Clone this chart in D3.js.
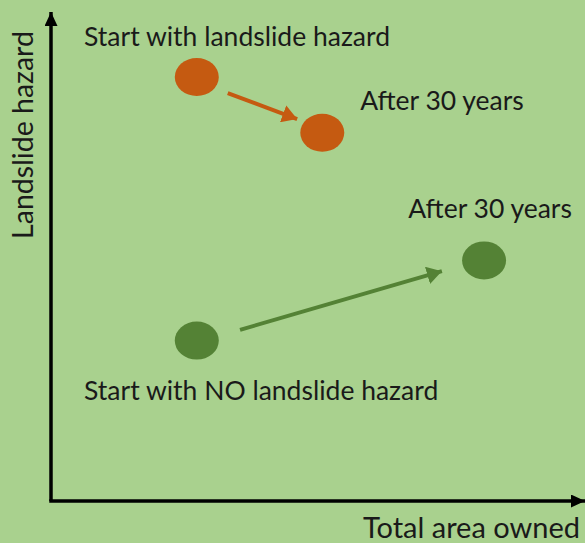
<!DOCTYPE html>
<html>
<head>
<meta charset="utf-8">
<script src="https://cdn.jsdelivr.net/npm/d3@7"></script>
<style>
  body { margin: 0; background: #a9d18e; }
  svg { display: block; }
  text { font-family: Lato, "Noto Sans", sans-serif; fill: #1a1a1a; }
</style>
</head>
<body>
<div id="chart"></div>
<script>
// concept chart: landslide hazard vs total area owned (unitless 0-100)
const startPoints = [
  { group: 'hazard', x: 27.3, y: 86.7 },
  { group: 'noHazard', x: 27.3, y: 32.8 }
];
const endPoints = [
  { group: 'hazard', x: 50.8, y: 75.3 },
  { group: 'noHazard', x: 81.1, y: 49.2 }
];
const arrows = [
  { group: 'hazard', x0: 33.1, y0: 83.4, x1: 46.1, y1: 78.1 },
  { group: 'noHazard', x0: 35.4, y0: 35.0, x1: 73.2, y1: 47.0 }
];
const labels = [
  { text: 'Start with landslide hazard', x: 6.2, y: 93.0 },
  { text: 'After 30 years', x: 57.9, y: 79.9 },
  { text: 'After 30 years', x: 66.9, y: 57.9 },
  { text: 'Start with NO landslide hazard', x: 6.2, y: 20.7 }
];
const xLabelText = 'Total area owned',
  yLabelText = 'Landslide hazard';

const colors = { hazard: '#c55a11', noHazard: '#548235' };

let width = 585, height = 543,
  margin = { top: 12, left: 51, right: 0, bottom: 42 };

let svg = d3.select('#chart')
  .append('svg')
    .attr('width', width)
    .attr('height', height);

svg.append('rect')
    .attr('width', width)
    .attr('height', height)
    .attr('fill', '#a9d18e');

let xScale = d3.scaleLinear()
  .domain([0, 100])
  .range([margin.left, width - margin.right]);
let yScale = d3.scaleLinear()
  .domain([0, 100])
  .range([height - margin.bottom, margin.top]);

let defs = svg.append('defs');

function addMarker(id, color, w, l) {
  defs.append('marker')
      .attr('id', id)
      .attr('markerUnits', 'userSpaceOnUse')
      .attr('viewBox', `0 ${-w / 2} ${l} ${w}`)
      .attr('refX', l)
      .attr('refY', 0)
      .attr('markerWidth', l)
      .attr('markerHeight', w)
      .attr('orient', 'auto')
    .append('path')
      .attr('d', `M0,${-w / 2}L${l},0L0,${w / 2}Z`)
      .attr('fill', color);
}
addMarker('axisHead', '#000', 13, 14);
addMarker('head-hazard', colors.hazard, 18, 15);
addMarker('head-noHazard', colors.noHazard, 18, 15);

// axes drawn as plain arrows
svg.append('path')
    .attr('d', `M${xScale(0)},${yScale(0)}L${xScale(0)},${yScale(100)}`)
    .attr('stroke', '#000')
    .attr('stroke-width', 3.5)
    .attr('marker-end', 'url(#axisHead)');
svg.append('path')
    .attr('d', `M${xScale(0) - 1.75},${yScale(0)}L${xScale(100)},${yScale(0)}`)
    .attr('stroke', '#000')
    .attr('stroke-width', 3.5)
    .attr('marker-end', 'url(#axisHead)');

svg.append('text')
    .attr('x', 580)
    .attr('y', 538)
    .attr('text-anchor', 'end')
    .attr('font-size', '29px')
    .text(xLabelText);

svg.append('text')
    .attr('transform', 'translate(33,135) rotate(-90)')
    .attr('text-anchor', 'middle')
    .attr('font-size', '28.5px')
    .text(yLabelText);

// the movement arrows
svg.append('g')
  .selectAll('line')
  .data(arrows)
  .enter()
  .append('line')
    .attr('x1', d => xScale(d.x0))
    .attr('y1', d => yScale(d.y0))
    .attr('x2', d => xScale(d.x1))
    .attr('y2', d => yScale(d.y1))
    .attr('stroke', d => colors[d.group])
    .attr('stroke-width', 4)
    .attr('marker-end', d => `url(#head-${d.group})`);

// points
svg.append('g')
  .selectAll('ellipse')
  .data(startPoints.concat(endPoints))
  .enter()
  .append('ellipse')
    .attr('cx', d => xScale(d.x))
    .attr('cy', d => yScale(d.y))
    .attr('rx', 22)
    .attr('ry', 19)
    .attr('fill', d => colors[d.group]);

svg.append('g')
  .selectAll('text')
  .data(labels)
  .enter()
  .append('text')
    .attr('x', d => xScale(d.x))
    .attr('y', d => yScale(d.y))
    .attr('font-size', '26.5px')
    .text(d => d.text);
</script>
</body>
</html>
